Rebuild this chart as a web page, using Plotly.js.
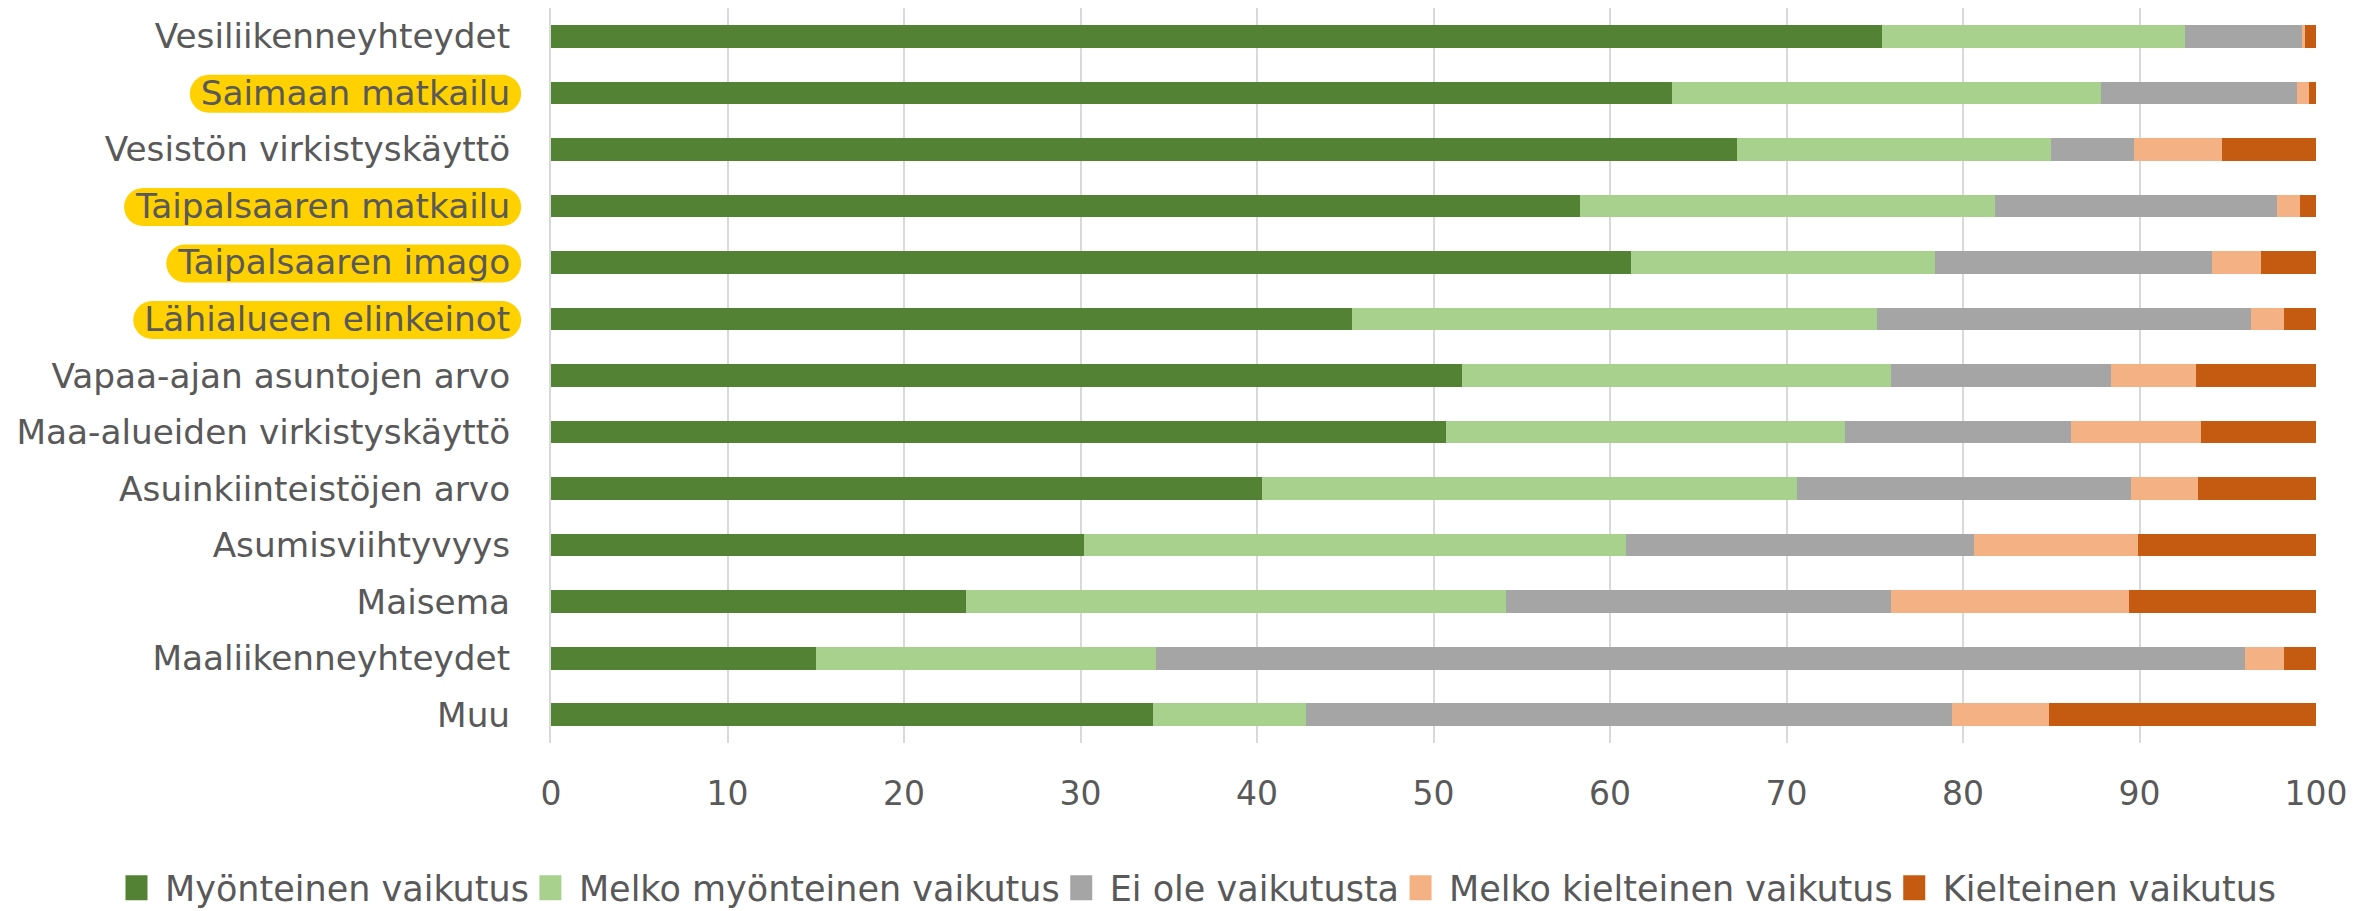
<!DOCTYPE html>
<html>
<head>
<meta charset="utf-8">
<script src="https://cdn.plot.ly/plotly-3.0.1.min.js"></script>
<style>
html,body{margin:0;padding:0;background:#fff;}
#chart{width:2376px;height:911px;}
</style>
</head>
<body>
<div id="chart"></div>
<script>
// Categories, top to bottom
const categories = [
  "Vesiliikenneyhteydet",
  "Saimaan matkailu",
  "Vesistön virkistyskäyttö",
  "Taipalsaaren matkailu",
  "Taipalsaaren imago",
  "Lähialueen elinkeinot",
  "Vapaa-ajan asuntojen arvo",
  "Maa-alueiden virkistyskäyttö",
  "Asuinkiinteistöjen arvo",
  "Asumisviihtyvyys",
  "Maisema",
  "Maaliikenneyhteydet",
  "Muu"
];
const highlighted = ["Saimaan matkailu", "Taipalsaaren matkailu", "Taipalsaaren imago", "Lähialueen elinkeinot"];

const seriesNames = ["Myönteinen vaikutus", "Melko myönteinen vaikutus", "Ei ole vaikutusta", "Melko kielteinen vaikutus", "Kielteinen vaikutus"];
const myonteinen      = [75.4, 63.5, 67.2, 58.3, 61.2, 45.4, 51.6, 50.7, 40.3, 30.2, 23.5, 15.0, 34.1];
const melkoMyonteinen = [17.2, 24.3, 17.8, 23.5, 17.2, 29.7, 24.3, 22.6, 30.3, 30.7, 30.6, 19.3, 8.7];
const eiVaikutusta    = [6.6, 11.1, 4.7, 16.0, 15.7, 21.2, 12.5, 12.8, 18.9, 19.7, 21.8, 61.7, 36.6];
const melkoKielteinen = [0.2, 0.7, 5.0, 1.3, 2.8, 1.9, 4.8, 7.4, 3.8, 9.3, 13.5, 2.2, 5.5];
const kielteinen      = [0.6, 0.4, 5.3, 0.9, 3.1, 1.8, 6.8, 6.5, 6.7, 10.1, 10.6, 1.8, 15.1];
const xTickValues = [0, 10, 20, 30, 40, 50, 60, 70, 80, 90, 100];

const colors = ["#548235", "#A9D18E", "#A5A5A5", "#F4B183", "#C55A11"];
const seriesValues = [myonteinen, melkoMyonteinen, eiVaikutusta, melkoKielteinen, kielteinen];

const FONT = "DejaVu Sans, Verdana, sans-serif";
const TXT = "#595959";

const data = seriesValues.map((vals, i) => ({
  type: "bar",
  orientation: "h",
  name: seriesNames[i],
  x: vals,
  y: categories,
  marker: {color: colors[i], line: {width: 0}},
  hoverinfo: "x+y+name"
}));

const layout = {
  width: 2376,
  height: 911,
  barmode: "stack",
  bargap: 0.6,
  paper_bgcolor: "#ffffff",
  plot_bgcolor: "#ffffff",
  margin: {l: 551, r: 60, t: 8, b: 168, pad: 0, autoexpand: false},
  font: {family: FONT, size: 34.3, color: TXT},
  xaxis: {
    range: [0, 100],
    tickvals: xTickValues,
    ticktext: xTickValues.map(String),
    showgrid: true,
    gridcolor: "#D9D9D9",
    gridwidth: 2,
    zeroline: false,
    showline: false,
    ticks: "",
    ticklabelstandoff: 28,
    tickfont: {family: FONT, size: 33, color: TXT},
    fixedrange: true
  },
  yaxis: {
    type: "category",
    categoryorder: "array",
    categoryarray: categories,
    autorange: "reversed",
    showgrid: false,
    zeroline: false,
    showline: true,
    linecolor: "#D9D9D9",
    linewidth: 2,
    ticks: "",
    ticklabelstandoff: 32,
    tickfont: {family: FONT, size: 34.3, color: TXT},
    fixedrange: true
  },
  showlegend: true,
  legend: {
    orientation: "h",
    xref: "paper",
    yref: "paper",
    x: -0.2442,
    xanchor: "left",
    y: -0.1973,
    yanchor: "middle",
    traceorder: "normal",
    font: {family: FONT, size: 35, color: TXT},
    itemwidth: 35,
    bgcolor: "rgba(0,0,0,0)"
  }
};

function fixLegendSymbols() {
  gd.querySelectorAll(".legend .legendpoints path").forEach(p => {
    p.setAttribute("d", "M5,12.5H-17V-12.5H5Z");
  });
}

const gd = document.getElementById("chart");
Plotly.newPlot(gd, data, layout, {displayModeBar: false, staticPlot: true}).then(() => {
  const sz = gd._fullLayout._size;
  const base = gd.getBoundingClientRect();
  const toPX = px => (px - sz.l) / sz.w;
  const toPY = py => 1 - (py - sz.t) / sz.h;
  const shapes = [];
  gd.querySelectorAll(".ytick text").forEach(t => {
    if (!highlighted.includes(t.textContent)) return;
    const r = t.getBoundingClientRect();
    const x0 = r.left - base.left - 11;
    const x1 = r.right - base.left + 11;
    const yc = (r.top + r.bottom) / 2 - base.top + 1;
    const h = 38, rad = h / 2, k = 0.5523 * rad;
    const top = yc - rad, bot = yc + rad;
    const P = (x, y) => toPX(x).toFixed(5) + "," + toPY(y).toFixed(5);
    const path = "M" + P(x0 + rad, top) +
      " L" + P(x1 - rad, top) +
      " C" + P(x1 - rad + k, top) + " " + P(x1, yc - k) + " " + P(x1, yc) +
      " C" + P(x1, yc + k) + " " + P(x1 - rad + k, bot) + " " + P(x1 - rad, bot) +
      " L" + P(x0 + rad, bot) +
      " C" + P(x0 + rad - k, bot) + " " + P(x0, yc + k) + " " + P(x0, yc) +
      " C" + P(x0, yc - k) + " " + P(x0 + rad - k, top) + " " + P(x0 + rad, top) + " Z";
    shapes.push({type: "path", xref: "paper", yref: "paper", path: path,
      fillcolor: "#FFD100", line: {width: 0}, layer: "below"});
  });
  return Plotly.relayout(gd, {shapes: shapes});
}).then(() => {
  fixLegendSymbols();
  setTimeout(fixLegendSymbols, 50);
});
</script>
</body>
</html>
